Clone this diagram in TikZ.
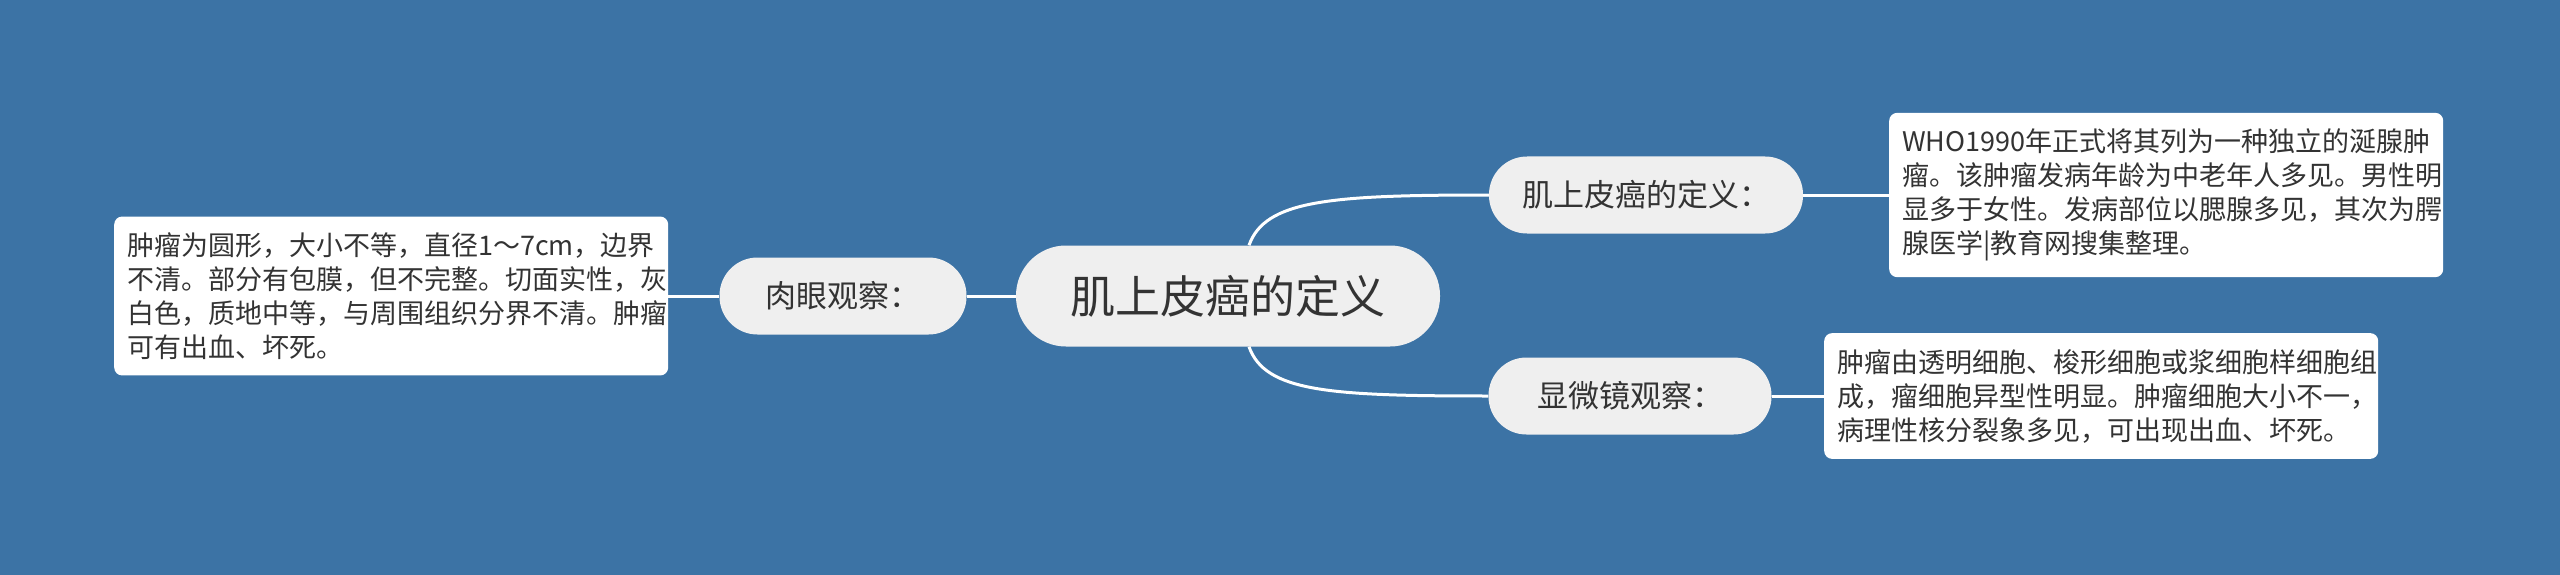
\documentclass[tikz,border=0pt]{standalone}
\usepackage{fontspec}
\setmainfont{Noto Sans CJK SC}
\usetikzlibrary{calc}
\definecolor{bg}{HTML}{3C73A5}
\definecolor{nodefill}{HTML}{EFEFEF}
\definecolor{txt}{HTML}{333333}
\begin{document}
\begin{tikzpicture}[x=1pt,y=-1pt,
 rootnode/.style={fill=nodefill, rounded corners=50pt, minimum width=424pt, minimum height=101pt, text=txt, font=\fontsize{45}{52}\selectfont, inner sep=0pt},
 branch/.style={fill=nodefill, rounded corners=38pt, minimum height=77pt, text=txt, font=\fontsize{31}{36}\selectfont, inner sep=0pt},
 leaf/.style={fill=white, rounded corners=8pt, text=txt, font=\fontsize{27}{34}\selectfont, align=left, text width=528pt, inner xsep=13pt, inner ysep=16pt, anchor=west},
 conn/.style={draw=white, line width=3pt}]
\fill[bg] (0,0) rectangle (2560,575);
\useasboundingbox (0,0) rectangle (2560,575);

\node[rootnode] (root) at (1228,296) {肌上皮癌的定义};
\node[branch, minimum width=247pt] (eye) at (843,296) {肉眼观察：};
\node[branch, minimum width=314pt] (def) at (1646,195) {肌上皮癌的定义：};
\node[branch, minimum width=283pt] (mic) at (1630,396) {显微镜观察：};

\node[leaf] (leftbox) at (114,296) {肿瘤为圆形，大小不等，直径1～7cm，边界\\不清。部分有包膜，但不完整。切面实性，灰\\白色，质地中等，与周围组织分界不清。肿瘤\\可有出血、坏死。};
\node[leaf] (topbox) at (1889,195) {WHO1990年正式将其列为一种独立的涎腺肿\\瘤。该肿瘤发病年龄为中老年人多见。男性明\\显多于女性。发病部位以腮腺多见，其次为腭\\腺医学|教育网搜集整理。};
\node[leaf] (botbox) at (1824,396) {肿瘤由透明细胞、梭形细胞或浆细胞样细胞组\\成，瘤细胞异型性明显。肿瘤细胞大小不一，\\病理性核分裂象多见，可出现出血、坏死。};

\draw[conn] (root.west) -- (eye.east);
\draw[conn] (eye.west) -- (leftbox.east);
\draw[conn] ($(root.north)+(21,0)$) .. controls +(16,-45) and +(-160,0) .. (def.west);
\draw[conn] ($(root.south)+(21,0)$) .. controls +(16,45) and +(-160,0) .. (mic.west);
\draw[conn] (def.east) -- (topbox.west);
\draw[conn] (mic.east) -- (botbox.west);
\end{tikzpicture}
\end{document}
